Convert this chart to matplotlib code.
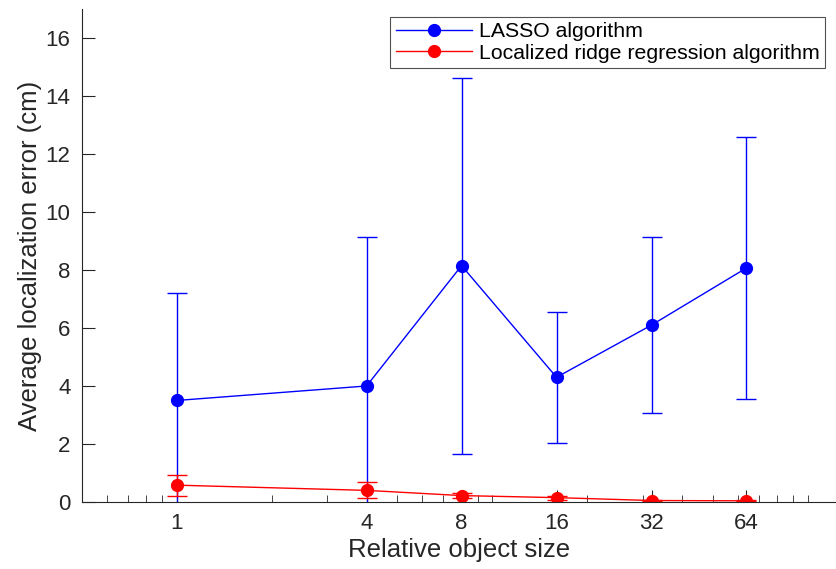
import numpy as np
import matplotlib.pyplot as plt
from matplotlib.ticker import FixedLocator, LogLocator, NullFormatter

plt.rcParams['font.family'] = ['Liberation Sans', 'DejaVu Sans']

sizes = [1, 4, 8, 16, 32, 64]
lasso_mean = [3.5, 4.0, 8.15, 4.3, 6.1, 8.07]
lasso_err = [3.72, 5.15, 6.48, 2.26, 3.03, 4.52]
ridge_mean = [0.58, 0.40, 0.22, 0.15, 0.05, 0.04]
ridge_err = [0.36, 0.28, 0.10, 0.07, 0.03, 0.02]
xticks = [1, 4, 8, 16, 32, 64]

fig = plt.figure(figsize=(8.36, 5.69), dpi=100)
ax = fig.add_axes([0.0977, 0.1178, 0.9023, 0.8664])

eb1 = ax.errorbar(sizes, lasso_mean, yerr=lasso_err, color='blue', marker='o',
                  markersize=8.5, linewidth=1, elinewidth=1, capsize=7, capthick=1,
                  label='LASSO algorithm')
eb2 = ax.errorbar(sizes, ridge_mean, yerr=ridge_err, color='red', marker='o',
                  markersize=8.5, linewidth=1, elinewidth=1, capsize=7, capthick=1,
                  label='Localized ridge regression algorithm')

ax.set_xscale('log')
ax.set_xlim(0.5, 123)
ax.set_ylim(0, 17)
ax.xaxis.set_major_locator(FixedLocator(xticks))
ax.set_xticklabels([str(t) for t in xticks])
ax.xaxis.set_minor_locator(LogLocator(base=10, subs=np.arange(1, 10)))
ax.xaxis.set_minor_formatter(NullFormatter())
ax.set_yticks(np.arange(0, 17, 2))

for s in ['top', 'right']:
    ax.spines[s].set_visible(False)
for s in ['left', 'bottom']:
    ax.spines[s].set_color('#262626')
ax.tick_params(which='major', direction='in', length=9, labelsize=16,
               colors='#262626', pad=8)
ax.tick_params(which='minor', direction='in', length=5, colors='#262626')
ax.tick_params(axis='y', which='minor', left=False)

ax.set_xlabel('Relative object size', fontsize=18.5, color='#262626', labelpad=3)
ax.set_ylabel('Average localization error (cm)', fontsize=18.5, color='#262626', labelpad=3)

leg = ax.legend(handles=[eb1.lines[0], eb2.lines[0]],
                labels=['LASSO algorithm', 'Localized ridge regression algorithm'],
                loc='upper right', bbox_to_anchor=(0.985, 0.984), fontsize=15.3,
                frameon=True, fancybox=False, edgecolor='#262626',
                borderpad=0.25, handlelength=3.6, labelspacing=0.12,
                handletextpad=0.3, borderaxespad=0)
leg.get_frame().set_linewidth(0.8)

fig.savefig('out.png', dpi=100)
